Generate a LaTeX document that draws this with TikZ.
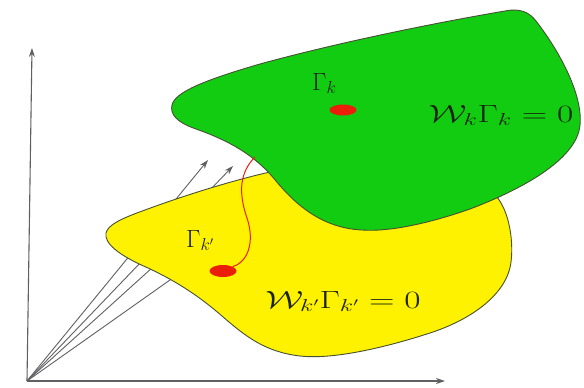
\documentclass[tikz,border=0pt]{standalone}
\usepackage{graphicx}
\usetikzlibrary{arrows.meta,shapes.geometric}
\definecolor{sheetgreen}{RGB}{18,204,18}
\definecolor{sheetyellow}{RGB}{255,242,0}
\definecolor{edgecol}{RGB}{70,80,50}
\definecolor{axiscol}{RGB}{95,95,100}
\definecolor{pathred}{RGB}{235,30,10}
\definecolor{textcol}{RGB}{25,35,15}
\tikzset{
  axisline/.style={draw=axiscol, line width=1.1pt, -{Stealth[length=9pt,width=6pt]}},
  vecline/.style={draw=axiscol, line width=0.9pt},
  vecarrow/.style={vecline, -{Stealth[length=9pt,width=6pt]}},
  sheet/.style={draw=edgecol, line width=0.9pt},
  lbl/.style={inner sep=0pt, anchor=base west, text=textcol, font=\fontsize{26}{30}\selectfont},
  eqlbl/.style={inner sep=0pt, anchor=base, text=textcol, font=\fontsize{26}{30}\selectfont},
  dot/.style={fill=pathred, draw=none, ellipse, inner sep=0pt}
}
\newcommand{\wideeq}[1]{\scalebox{1.42}[1]{$#1$}}
\begin{document}
\begin{tikzpicture}[x=1pt,y=-1pt]
\useasboundingbox (0,0) rectangle (584,388);
% axes
\coordinate (O) at (27,381);
\coordinate (ytop) at (32,48);
\coordinate (xend) at (445,381);
\draw[axisline] (O) -- (ytop);
\draw[axisline] (O) -- (xend);
% vectors
\coordinate (v1) at (208,160);
\coordinate (v2) at (233,166);
\coordinate (v3) at (216,210);
\coordinate (v4) at (245,227);
\draw[vecarrow] (O) -- (v1);
\draw[vecarrow] (O) -- (v2);
\draw[vecline] (O) -- (v3);
\draw[vecline] (O) -- (v4);
% yellow sheet
\draw[sheet, fill=sheetyellow] (106,233)
  .. controls (108,225) and (120,219) .. (145,210)
  .. controls (180,197) and (230,181) .. (270,172)
  .. controls (320,162) and (450,160) .. (492,192)
  .. controls (508,205) and (514,238) .. (511,262)
  .. controls (507,295) and (470,320) .. (430,333)
  .. controls (390,346) and (335,360) .. (300,356)
  .. controls (265,352) and (245,336) .. (222,316)
  .. controls (200,297) and (178,282) .. (148,268)
  .. controls (118,255) and (104,243) .. (106,233) -- cycle;
% green sheet
\draw[sheet, fill=sheetgreen] (172,105)
  .. controls (175,92) and (205,80) .. (260,64)
  .. controls (340,42) and (440,22) .. (505,11)
  .. controls (520,8) and (529,12) .. (536,21)
  .. controls (560,52) and (583,95) .. (580,125)
  .. controls (577,160) and (520,190) .. (470,209)
  .. controls (430,223) and (390,232) .. (362,230)
  .. controls (322,228) and (296,205) .. (276,181)
  .. controls (256,156) and (230,141) .. (196,129)
  .. controls (176,122) and (170,114) .. (172,105) -- cycle;
% path between the sheets
\coordinate (ptop) at (255,157);
\node[dot, minimum width=27pt, minimum height=12pt] (dk2) at (223,271) {};
\draw[pathred, line width=1pt] (ptop) .. controls (240,172) and (238,192) .. (247,218)
  .. controls (255,242) and (248,262) .. (dk2.north east);
\node[dot, minimum width=27pt, minimum height=11pt] (dk) at (343,110) {};
% labels
\node[lbl] (gk) at (312,90) {$\Gamma_k$};
\node[lbl] (gk2) at (186,247) {$\Gamma_{k'}$};
\node[eqlbl] (eqk) at (501,122) {\wideeq{\mathcal{W}_k\Gamma_k = 0}};
\node[eqlbl] (eqk2) at (343,308) {\wideeq{\mathcal{W}_{k'}\Gamma_{k'} = 0}};
\end{tikzpicture}
\end{document}
